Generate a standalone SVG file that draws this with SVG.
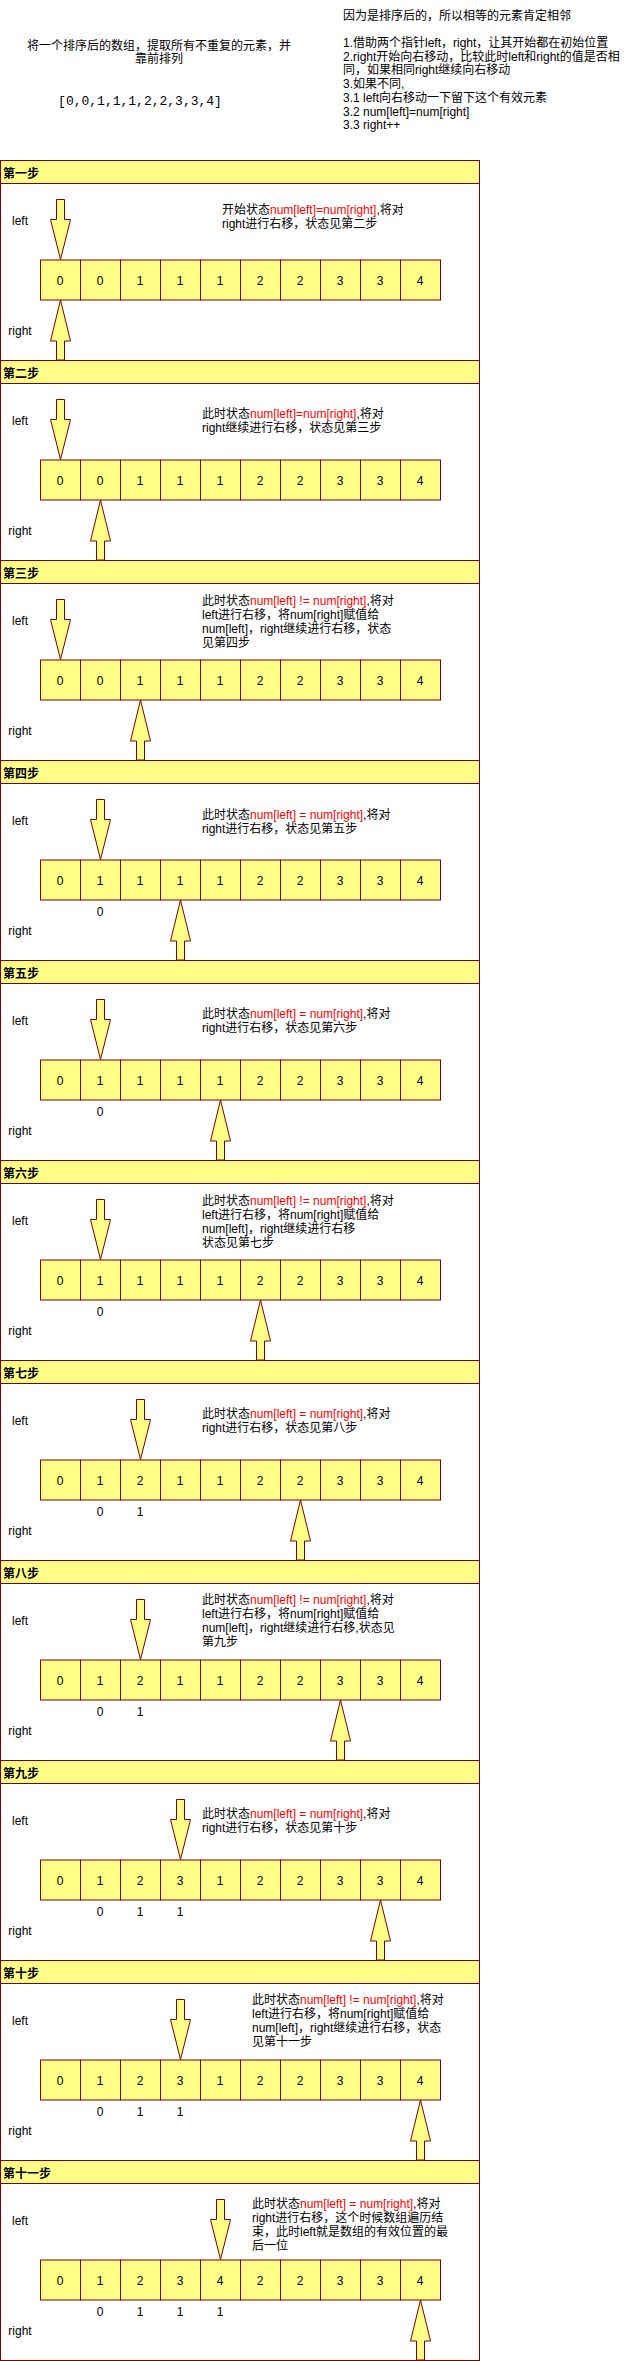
<svg xmlns="http://www.w3.org/2000/svg" xmlns:xlink="http://www.w3.org/1999/xlink" width="641" height="2361" viewBox="0 0 641 2361">
<style>
.t{font-family:"Liberation Sans","Noto Sans CJK SC",sans-serif;font-size:12px;fill:#000}
.m{font-family:"Liberation Mono","Courier New",monospace;font-size:13px;fill:#000}
.b{font-weight:bold}
.c{text-anchor:middle}
.r{fill:#ff0000}
.lane{fill:#ffffff;stroke:#800000;stroke-width:1}
.hdr{fill:#ffff88;stroke:#800000;stroke-width:1}
</style>
<defs>
<path id="da" d="M-4,0H4V20H10L0,60L-10,20H-4Z" fill="#ffff88" stroke="#800000" stroke-width="1"/>
<path id="ua" d="M0,0L10,41H4V60H-4V41H-10Z" fill="#ffff88" stroke="#800000" stroke-width="1"/>
<g id="row" fill="#ffff88" stroke="#800000" stroke-width="1">
<rect x="40.5" y="0" width="40" height="40"/><rect x="80.5" y="0" width="40" height="40"/><rect x="120.5" y="0" width="40" height="40"/><rect x="160.5" y="0" width="40" height="40"/><rect x="200.5" y="0" width="40" height="40"/><rect x="240.5" y="0" width="40" height="40"/><rect x="280.5" y="0" width="40" height="40"/><rect x="320.5" y="0" width="40" height="40"/><rect x="360.5" y="0" width="40" height="40"/><rect x="400.5" y="0" width="40" height="40"/>
</g>
</defs>

<g id="intro">
<text class="t c" x="159" y="49.5">将一个排序后的数组，提取所有不重复的元素，并</text>
<text class="t c" x="159" y="63.2">靠前排列</text>
<text class="m c" x="140" y="104.5">[0,0,1,1,1,2,2,3,3,4]</text>
</g>
<g id="notes">
<text class="t" x="343" y="19.5">因为是排序后的，所以相等的元素肯定相邻</text>
<text class="t" x="343" y="47">1.借助两个指针left，right，让其开始都在初始位置</text>
<text class="t" x="343" y="60.7">2.right开始向右移动，比较此时left和right的值是否相</text>
<text class="t" x="343" y="74.4">同，如果相同right继续向右移动</text>
<text class="t" x="343" y="88.1">3.如果不同,</text>
<text class="t" x="343" y="101.8">3.1 left向右移动一下留下这个有效元素</text>
<text class="t" x="343" y="115.5">3.2 num[left]=num[right]</text>
<text class="t" x="343" y="129.2">3.3 right++</text>
</g>

<g id="step1">
<rect class="lane" x="0.5" y="160.5" width="479" height="200"/>
<rect class="hdr" x="0.5" y="160.5" width="479" height="23"/>
<text class="t b" x="3" y="178">第一步</text>
<text class="t c" x="20" y="225">left</text>
<text class="t c" x="20" y="335">right</text>
<use xlink:href="#da" x="60.5" y="199.5"/>
<use xlink:href="#row" y="260"/>
<use xlink:href="#ua" x="60.5" y="300"/>
<g class="t c"><text x="60" y="285">0</text><text x="100" y="285">0</text><text x="140" y="285">1</text><text x="180" y="285">1</text><text x="220" y="285">1</text><text x="260" y="285">2</text><text x="300" y="285">2</text><text x="340" y="285">3</text><text x="380" y="285">3</text><text x="420" y="285">4</text></g>
<text class="t" x="222" y="213.5">开始状态<tspan class="r">num[left]=num[right]</tspan>,将对</text>
<text class="t" x="222" y="227.5">right进行右移，状态见第二步</text>
</g>

<g id="step2">
<rect class="lane" x="0.5" y="360.5" width="479" height="200"/>
<rect class="hdr" x="0.5" y="360.5" width="479" height="23"/>
<text class="t b" x="3" y="378">第二步</text>
<text class="t c" x="20" y="425">left</text>
<text class="t c" x="20" y="535">right</text>
<use xlink:href="#da" x="60.5" y="399.5"/>
<use xlink:href="#row" y="460"/>
<use xlink:href="#ua" x="100.5" y="500"/>
<g class="t c"><text x="60" y="485">0</text><text x="100" y="485">0</text><text x="140" y="485">1</text><text x="180" y="485">1</text><text x="220" y="485">1</text><text x="260" y="485">2</text><text x="300" y="485">2</text><text x="340" y="485">3</text><text x="380" y="485">3</text><text x="420" y="485">4</text></g>
<text class="t" x="202" y="417.5">此时状态<tspan class="r">num[left]=num[right]</tspan>,将对</text>
<text class="t" x="202" y="431.5">right继续进行右移，状态见第三步</text>
</g>

<g id="step3">
<rect class="lane" x="0.5" y="560.5" width="479" height="200"/>
<rect class="hdr" x="0.5" y="560.5" width="479" height="23"/>
<text class="t b" x="3" y="578">第三步</text>
<text class="t c" x="20" y="625">left</text>
<text class="t c" x="20" y="735">right</text>
<use xlink:href="#da" x="60.5" y="599.5"/>
<use xlink:href="#row" y="660"/>
<use xlink:href="#ua" x="140.5" y="700"/>
<g class="t c"><text x="60" y="685">0</text><text x="100" y="685">0</text><text x="140" y="685">1</text><text x="180" y="685">1</text><text x="220" y="685">1</text><text x="260" y="685">2</text><text x="300" y="685">2</text><text x="340" y="685">3</text><text x="380" y="685">3</text><text x="420" y="685">4</text></g>
<text class="t" x="202" y="604.5">此时状态<tspan class="r">num[left] != num[right]</tspan>,将对</text>
<text class="t" x="202" y="618.5">left进行右移，将num[right]赋值给</text>
<text class="t" x="202" y="632.5">num[left]，right继续进行右移，状态</text>
<text class="t" x="202" y="646.5">见第四步</text>
</g>

<g id="step4">
<rect class="lane" x="0.5" y="760.5" width="479" height="200"/>
<rect class="hdr" x="0.5" y="760.5" width="479" height="23"/>
<text class="t b" x="3" y="778">第四步</text>
<text class="t c" x="20" y="825">left</text>
<text class="t c" x="20" y="935">right</text>
<use xlink:href="#da" x="100.5" y="799.5"/>
<use xlink:href="#row" y="860"/>
<use xlink:href="#ua" x="180.5" y="900"/>
<g class="t c"><text x="60" y="885">0</text><text x="100" y="885">1</text><text x="140" y="885">1</text><text x="180" y="885">1</text><text x="220" y="885">1</text><text x="260" y="885">2</text><text x="300" y="885">2</text><text x="340" y="885">3</text><text x="380" y="885">3</text><text x="420" y="885">4</text></g>
<g class="t c"><text x="100" y="916">0</text></g>
<text class="t" x="202" y="818.5">此时状态<tspan class="r">num[left] = num[right]</tspan>,将对</text>
<text class="t" x="202" y="832.5">right进行右移，状态见第五步</text>
</g>

<g id="step5">
<rect class="lane" x="0.5" y="960.5" width="479" height="200"/>
<rect class="hdr" x="0.5" y="960.5" width="479" height="23"/>
<text class="t b" x="3" y="978">第五步</text>
<text class="t c" x="20" y="1025">left</text>
<text class="t c" x="20" y="1135">right</text>
<use xlink:href="#da" x="100.5" y="999.5"/>
<use xlink:href="#row" y="1060"/>
<use xlink:href="#ua" x="220.5" y="1100"/>
<g class="t c"><text x="60" y="1085">0</text><text x="100" y="1085">1</text><text x="140" y="1085">1</text><text x="180" y="1085">1</text><text x="220" y="1085">1</text><text x="260" y="1085">2</text><text x="300" y="1085">2</text><text x="340" y="1085">3</text><text x="380" y="1085">3</text><text x="420" y="1085">4</text></g>
<g class="t c"><text x="100" y="1116">0</text></g>
<text class="t" x="202" y="1017.5">此时状态<tspan class="r">num[left] = num[right]</tspan>,将对</text>
<text class="t" x="202" y="1031.5">right进行右移，状态见第六步</text>
</g>

<g id="step6">
<rect class="lane" x="0.5" y="1160.5" width="479" height="200"/>
<rect class="hdr" x="0.5" y="1160.5" width="479" height="23"/>
<text class="t b" x="3" y="1178">第六步</text>
<text class="t c" x="20" y="1225">left</text>
<text class="t c" x="20" y="1335">right</text>
<use xlink:href="#da" x="100.5" y="1199.5"/>
<use xlink:href="#row" y="1260"/>
<use xlink:href="#ua" x="260.5" y="1300"/>
<g class="t c"><text x="60" y="1285">0</text><text x="100" y="1285">1</text><text x="140" y="1285">1</text><text x="180" y="1285">1</text><text x="220" y="1285">1</text><text x="260" y="1285">2</text><text x="300" y="1285">2</text><text x="340" y="1285">3</text><text x="380" y="1285">3</text><text x="420" y="1285">4</text></g>
<g class="t c"><text x="100" y="1316">0</text></g>
<text class="t" x="202" y="1204.5">此时状态<tspan class="r">num[left] != num[right]</tspan>,将对</text>
<text class="t" x="202" y="1218.5">left进行右移，将num[right]赋值给</text>
<text class="t" x="202" y="1232.5">num[left]，right继续进行右移</text>
<text class="t" x="202" y="1246.5">状态见第七步</text>
</g>

<g id="step7">
<rect class="lane" x="0.5" y="1360.5" width="479" height="200"/>
<rect class="hdr" x="0.5" y="1360.5" width="479" height="23"/>
<text class="t b" x="3" y="1378">第七步</text>
<text class="t c" x="20" y="1425">left</text>
<text class="t c" x="20" y="1535">right</text>
<use xlink:href="#da" x="140.5" y="1399.5"/>
<use xlink:href="#row" y="1460"/>
<use xlink:href="#ua" x="300.5" y="1500"/>
<g class="t c"><text x="60" y="1485">0</text><text x="100" y="1485">1</text><text x="140" y="1485">2</text><text x="180" y="1485">1</text><text x="220" y="1485">1</text><text x="260" y="1485">2</text><text x="300" y="1485">2</text><text x="340" y="1485">3</text><text x="380" y="1485">3</text><text x="420" y="1485">4</text></g>
<g class="t c"><text x="100" y="1516">0</text><text x="140" y="1516">1</text></g>
<text class="t" x="202" y="1417.5">此时状态<tspan class="r">num[left] = num[right]</tspan>,将对</text>
<text class="t" x="202" y="1431.5">right进行右移，状态见第八步</text>
</g>

<g id="step8">
<rect class="lane" x="0.5" y="1560.5" width="479" height="200"/>
<rect class="hdr" x="0.5" y="1560.5" width="479" height="23"/>
<text class="t b" x="3" y="1578">第八步</text>
<text class="t c" x="20" y="1625">left</text>
<text class="t c" x="20" y="1735">right</text>
<use xlink:href="#da" x="140.5" y="1599.5"/>
<use xlink:href="#row" y="1660"/>
<use xlink:href="#ua" x="340.5" y="1700"/>
<g class="t c"><text x="60" y="1685">0</text><text x="100" y="1685">1</text><text x="140" y="1685">2</text><text x="180" y="1685">1</text><text x="220" y="1685">1</text><text x="260" y="1685">2</text><text x="300" y="1685">2</text><text x="340" y="1685">3</text><text x="380" y="1685">3</text><text x="420" y="1685">4</text></g>
<g class="t c"><text x="100" y="1716">0</text><text x="140" y="1716">1</text></g>
<text class="t" x="202" y="1603.5">此时状态<tspan class="r">num[left] != num[right]</tspan>,将对</text>
<text class="t" x="202" y="1617.5">left进行右移，将num[right]赋值给</text>
<text class="t" x="202" y="1631.5">num[left]，right继续进行右移,状态见</text>
<text class="t" x="202" y="1645.5">第九步</text>
</g>

<g id="step9">
<rect class="lane" x="0.5" y="1760.5" width="479" height="200"/>
<rect class="hdr" x="0.5" y="1760.5" width="479" height="23"/>
<text class="t b" x="3" y="1778">第九步</text>
<text class="t c" x="20" y="1825">left</text>
<text class="t c" x="20" y="1935">right</text>
<use xlink:href="#da" x="180.5" y="1799.5"/>
<use xlink:href="#row" y="1860"/>
<use xlink:href="#ua" x="380.5" y="1900"/>
<g class="t c"><text x="60" y="1885">0</text><text x="100" y="1885">1</text><text x="140" y="1885">2</text><text x="180" y="1885">3</text><text x="220" y="1885">1</text><text x="260" y="1885">2</text><text x="300" y="1885">2</text><text x="340" y="1885">3</text><text x="380" y="1885">3</text><text x="420" y="1885">4</text></g>
<g class="t c"><text x="100" y="1916">0</text><text x="140" y="1916">1</text><text x="180" y="1916">1</text></g>
<text class="t" x="202" y="1817.5">此时状态<tspan class="r">num[left] = num[right]</tspan>,将对</text>
<text class="t" x="202" y="1831.5">right进行右移，状态见第十步</text>
</g>

<g id="step10">
<rect class="lane" x="0.5" y="1960.5" width="479" height="200"/>
<rect class="hdr" x="0.5" y="1960.5" width="479" height="23"/>
<text class="t b" x="3" y="1978">第十步</text>
<text class="t c" x="20" y="2025">left</text>
<text class="t c" x="20" y="2135">right</text>
<use xlink:href="#da" x="180.5" y="1999.5"/>
<use xlink:href="#row" y="2060"/>
<use xlink:href="#ua" x="420.5" y="2100"/>
<g class="t c"><text x="60" y="2085">0</text><text x="100" y="2085">1</text><text x="140" y="2085">2</text><text x="180" y="2085">3</text><text x="220" y="2085">1</text><text x="260" y="2085">2</text><text x="300" y="2085">2</text><text x="340" y="2085">3</text><text x="380" y="2085">3</text><text x="420" y="2085">4</text></g>
<g class="t c"><text x="100" y="2116">0</text><text x="140" y="2116">1</text><text x="180" y="2116">1</text></g>
<text class="t" x="252" y="2003.5">此时状态<tspan class="r">num[left] != num[right]</tspan>,将对</text>
<text class="t" x="252" y="2017.5">left进行右移，将num[right]赋值给</text>
<text class="t" x="252" y="2031.5">num[left]，right继续进行右移，状态</text>
<text class="t" x="252" y="2045.5">见第十一步</text>
</g>

<g id="step11">
<rect class="lane" x="0.5" y="2160.5" width="479" height="200"/>
<rect class="hdr" x="0.5" y="2160.5" width="479" height="23"/>
<text class="t b" x="3" y="2178">第十一步</text>
<text class="t c" x="20" y="2225">left</text>
<text class="t c" x="20" y="2335">right</text>
<use xlink:href="#da" x="220.5" y="2199.5"/>
<use xlink:href="#row" y="2260"/>
<use xlink:href="#ua" x="420.5" y="2300"/>
<g class="t c"><text x="60" y="2285">0</text><text x="100" y="2285">1</text><text x="140" y="2285">2</text><text x="180" y="2285">3</text><text x="220" y="2285">4</text><text x="260" y="2285">2</text><text x="300" y="2285">2</text><text x="340" y="2285">3</text><text x="380" y="2285">3</text><text x="420" y="2285">4</text></g>
<g class="t c"><text x="100" y="2316">0</text><text x="140" y="2316">1</text><text x="180" y="2316">1</text><text x="220" y="2316">1</text></g>
<text class="t" x="252" y="2207.5">此时状态<tspan class="r">num[left] = num[right]</tspan>,将对</text>
<text class="t" x="252" y="2221.5">right进行右移，这个时候数组遍历结</text>
<text class="t" x="252" y="2235.5">束，此时left就是数组的有效位置的最</text>
<text class="t" x="252" y="2249.5">后一位</text>
</g>

<g id="connectors"></g>
</svg>
